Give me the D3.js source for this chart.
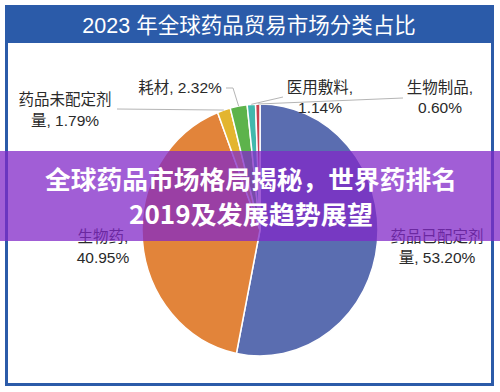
<!DOCTYPE html>
<html><head><meta charset="utf-8">
<script src="https://cdn.jsdelivr.net/npm/d3@7"></script>
<style>
html,body{margin:0;padding:0;background:#fff;}
svg{display:block;}
</style></head>
<body>
<svg id="chart" width="500" height="392"></svg>
<script>
// ---- data ----
const title = "2023 年全球药品贸易市场分类占比";
const categories = ["药品已配定剂量", "生物药", "药品未配定剂量", "耗材", "医用敷料", "生物制品"];
const values = [53.20, 40.95, 1.79, 2.32, 1.14, 0.60];
const colors = ["#5a6db0", "#e2843a", "#e3b52f", "#5db34b", "#41b8ad", "#c8414e"];
const labelLines = [
  ["药品已配定剂", "量, 53.20%"],
  ["生物药,", "40.95%"],
  ["药品未配定剂", "量, 1.79%"],
  ["耗材, 2.32%"],
  ["医用敷料,", "1.14%"],
  ["生物制品,", "0.60%"]
];
const bannerLines = ["全球药品市场格局揭秘，世界药排名", "2019及发展趋势展望"];

// ---- layout (positions kept separate from data) ----
const W = 500, H = 392;
const cx = 260, cy = 230, rx = 118, ry = 126;
const labelPos = [
  {x: 437, y: 242, leader: null},
  {x: 103, y: 242, leader: null},
  {x: 65, y: 105, leader: [[117, 109]]},
  {x: 180, y: 92.5, leader: [[226, 88], [233, 88]]},
  {x: 320, y: 92.5, leader: [[283, 97]]},
  {x: 440, y: 92.5, leader: [[403, 98]]}
];
const bannerWidths = [412, 244];

const svg = d3.select("#chart");
const FONT = "'Liberation Sans', 'Noto Sans CJK SC', sans-serif";

// frame
svg.append("rect").attr("x", 0).attr("y", 0).attr("width", W).attr("height", H).attr("fill", "#fff");
svg.append("rect").attr("x", 5).attr("y", 5).attr("width", 489).attr("height", 38).attr("fill", "#2b5ba9");
svg.append("rect").attr("x", 6.5).attr("y", 6.5).attr("width", 486).attr("height", 378)
  .attr("fill", "none").attr("stroke", "#2b5ba9").attr("stroke-width", 3);
svg.append("text").attr("x", 249).attr("y", 32.5).attr("text-anchor", "middle")
  .attr("font-family", FONT).attr("font-size", 21.5).attr("fill", "#fff").text(title);

// pie
const pie = d3.pie().sort(null).value(d => d)(values);
const arc = d3.arc().innerRadius(0).outerRadius(rx);
const g = svg.append("g").attr("transform", `translate(${cx},${cy}) scale(1,${ry / rx})`);
g.selectAll("path").data(pie).join("path")
  .attr("d", arc)
  .attr("fill", (d, i) => colors[i])
  .attr("stroke", "#fff").attr("stroke-width", 1.5);

// leader lines
pie.forEach((d, i) => {
  const lp = labelPos[i];
  if (!lp.leader) return;
  const a = (d.startAngle + d.endAngle) / 2;
  const px = cx + rx * Math.sin(a), py = cy - ry * Math.cos(a);
  const pts = lp.leader.concat([[px, py]]);
  svg.append("path").attr("d", d3.line()(pts))
    .attr("fill", "none").attr("stroke", "#b5b5b5").attr("stroke-width", 1);
});

// labels
labelLines.forEach((lines, i) => {
  const lp = labelPos[i];
  const t = svg.append("text").attr("text-anchor", "middle")
    .attr("font-family", FONT).attr("font-size", 15.5).attr("fill", "#2a2a2a");
  lines.forEach((s, j) => {
    t.append("tspan").attr("x", lp.x).attr("y", lp.y + j * 20.5).text(s);
  });
});

// banner overlay
svg.append("rect").attr("x", 0).attr("y", 151).attr("width", W).attr("height", 90)
  .attr("fill", "rgba(130,40,200,0.75)");
bannerLines.forEach((s, j) => {
  svg.append("text").attr("x", 251).attr("y", 189 + j * 35).attr("text-anchor", "middle")
    .attr("font-family", "'Noto Sans CJK SC', sans-serif").attr("font-weight", 700)
    .attr("font-size", 25.5).attr("fill", "#fff")
    .attr("textLength", bannerWidths[j]).attr("lengthAdjust", "spacingAndGlyphs")
    .text(s);
});
</script>
</body></html>
